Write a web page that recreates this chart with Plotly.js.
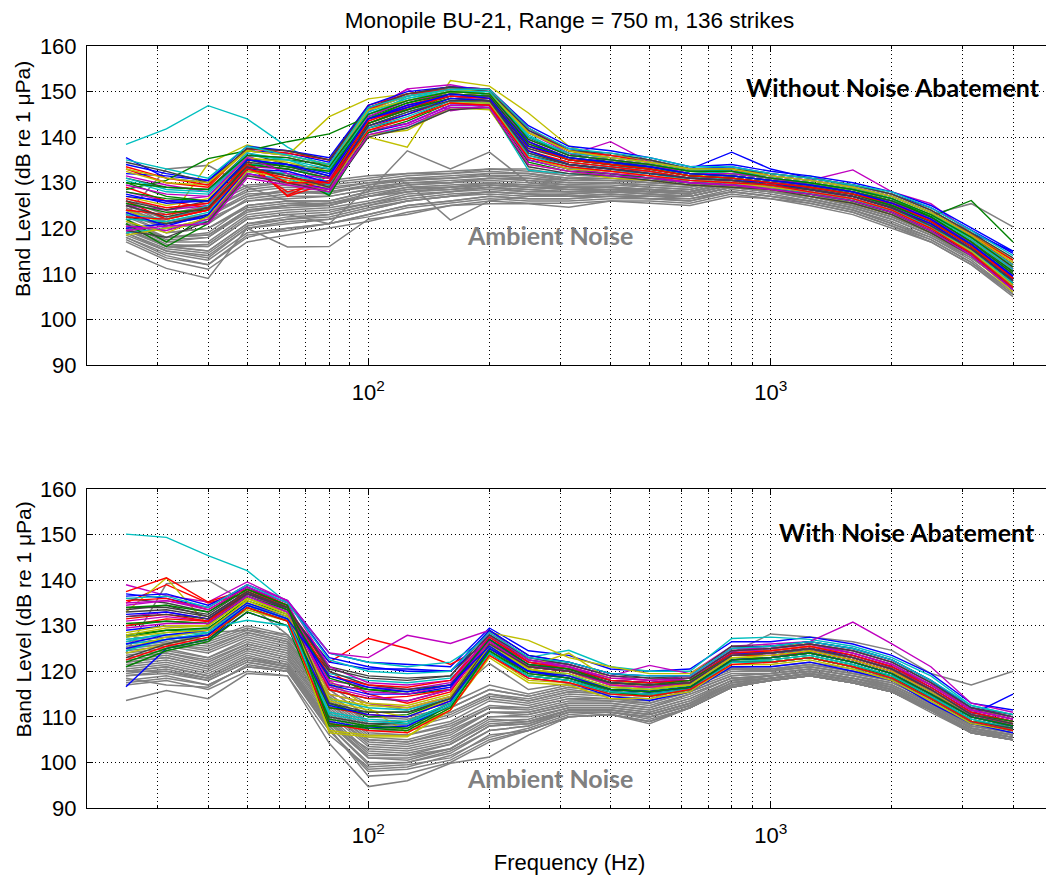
<!DOCTYPE html>
<html>
<head>
<meta charset="utf-8">
<script src="https://cdn.plot.ly/plotly-3.0.1.min.js"></script>
<style>
html,body{margin:0;padding:0;overflow:hidden;background:#fff}
#chart{width:1060px;height:877px}
</style>
</head>
<body>
<div id="chart"></div>
<script>
// 1/3-octave band centre frequencies (Hz)
const freqs = [25,31.5,40,50,63,80,100,125,160,200,250,315,400,500,630,800,1000,1250,1600,2000,2500,3150,4000];

// tick / grid positions and labels
const majorTicks = [100, 1000];
const majorLabels = ['10<sup>2</sup>', '10<sup>3</sup>'];
const minorTicks = [30,40,50,60,70,80,90,200,300,400,500,600,700,800,900,2000,3000,4000];
const levelTicks = [90,100,110,120,130,140,150,160];

// Panel 1: pile strikes without noise abatement (dB re 1 µPa)
const topStrikes = [
[135.5,131,130,137,136,134,146,149,151,150.5,142,137,136,135,133,133.5,132,131,129.5,127.5,124.5,119.5,114.5],
[122,117,123,134,133,131,143,146,149,148.5,138,135,134,133,131.5,131,130,129,127.5,125,121.5,116.5,109],
[126,122,124,135,127,130,142,145,148,148,137,134,133,132.5,131,130.5,129.5,128.5,127,124.5,121,115.5,108],
[138.4,141.8,146.9,144,137.8,133,144,149,151,149,135,133,133.5,133,132,132,131,131.5,129,126.5,122.5,117,110],
[128,126,127,136,132,130,146,150.5,145.8,147,140,136,139,134.5,133,133,131.5,130.5,132.8,128,125.4,119,111],
[124,121,134.2,138.3,136,144.5,148.4,149.5,151,150,141,137,135,133,131.5,132,131,130,128.5,126,123,118,112],
[131,129,128.5,136.5,134,133,145,148,150,149.5,140,136.5,134.5,134,132.5,132.5,131,129.5,128,125.5,122,117,110.5],
[120,121,122.5,132,130.5,128.5,141,143,147,147,135,133,132,131,130,129.5,129,127.5,126,123.5,119.5,114.5,106.5],
[130,127,126,135,135,134,144,146,149.5,149,139,135,134,133.5,132,131.5,130.5,129.5,128,126,122.5,126.1,117],
[133,130,129,137.5,137,135,147,149.5,151,150.5,141,137,135.5,134.5,133,133,131.5,130.5,129,127,123.5,118.5,112],
[119,120,121.5,131.5,131,127.5,140.5,142,146.5,146.5,132.7,132,131.5,131,130,129.5,129,127.5,126,124,120.5,115,108.5],
[125,124,125,133.5,133,131,143.5,147,149,148,138.5,135,134.5,133.5,132,131.5,130.5,129,127.5,125.5,121.5,116,109.5],
[127,125,126.5,135.5,134.5,132.5,140,137.8,152.4,151.2,145.3,138,135,134,132.5,132,131,130,128.5,126.5,123,117.5,110],
[122.5,121,123,133,131.5,129.5,142,144,148,147.5,136,134,133,132,131,130.5,129.5,128.5,127,124.5,120.5,115,107.5],
[132,131.5,130.5,137,136.5,134.5,146.5,149,150.5,150,141.5,137.5,136,135,133,136.7,133,131,129.5,127.5,124,119,114.9],
[121,116,121,132.5,132,127.2,141,143.5,147.5,147,134.5,132.5,132,131,130,129.5,128.5,127.5,126,123.5,119.5,114.5,107],
[129,126,124.5,134.5,127.2,131.5,144,147,149.5,149,139,135.5,134,133,131.5,131,130,129,127.5,125.5,122,116.5,109],
[123,122,125,134,134,130,142.5,145.5,148.5,148,136.5,134.5,133.5,132.5,131,131,130,129,127.5,125,121,115.5,108],
[131.5,129.5,128,136,135.5,133.5,145.5,150.6,151.5,150,141,136.5,135.5,134.5,133,132.5,131.5,130.5,129,127,123.5,118,111.5],
[118.5,120,122,131.5,130.5,128,140.5,141.5,146.5,146,134,132.5,131,130.5,129.5,129,128.5,127,125.5,123,119,114,106],
[126,124,126,134.5,133.5,131.5,143,146.5,149,148.5,137.5,135,134,133,131.5,131,130,129,127.5,125,121.5,116,109],
[134,132,130.5,138,137,135.5,147,150,151,150.5,142.5,138,137,135.5,133.5,134,132.5,131.5,130,128,125,120,115],
[128.5,130.5,135.3,137,139,140.7,144.5,147.5,150,149.5,140,136,135,134,132.5,132,131,130,128.5,126.5,122.5,117,110.5],
[124,123,124.5,133.5,128,130.5,143,146,148.5,148,137,134.5,133.5,132.5,131,130.5,129.5,128.5,127,124.5,121,115.5,108.5],
[130.5,128,127.5,136,135,132,145,148.5,150.5,149.5,140.5,136,135,134,132.5,132,131,130,128.5,126.5,123,117.5,111],
[120.5,119.5,122,132,130,128.5,141.5,143,147,147,135,133,132,131.5,130,129.5,129,128,126.5,124,120,114.5,107],
[132.5,130,129.5,137,136,134,146,149,150.5,150,141,137,136,135,133,133,132,131,129.5,127.5,124,119,113],
[119.5,118,121.5,131.5,130,128,140,142,146,146.5,133.5,132,131.5,130.5,129.5,129,128.5,127,125.5,123,119,114,106.5],
[127.5,125.5,126,135,134,132,144,147,149,149,139,135.5,134.5,133.5,132,131.5,130.5,129.5,128,126,122,116.5,109.5],
[125.5,123.5,124,134,133,131,143,146,148.5,148,138,135,134,133,131.5,131,130,129,127.5,125,121.5,116,108],
[133.5,131,129.5,137.5,136.5,135,146,149.5,150.5,150.5,142,137,136,134.5,133,133,131.5,130.5,129,127,123.5,118.5,113],
[122,121.5,123.5,133,132,129.5,142,144.5,148,147.5,136,133.5,132.5,132,130.5,130,129.5,128,126.5,124,120.5,115,108],
[129.5,127.5,127,135.5,132,131,144.5,148,149.5,149,139.5,136,135,134,132,132,131,129.5,128,126,122,117,110],
[121.5,119,122.5,132.5,131,129,141.5,144,147.5,147.5,135.5,133,132.5,131.5,130.5,130,129,128,126.5,124,120,115,107.5],
[134.5,132.5,130,137.5,137,135,146.5,149.5,151,150,141.5,137,136.5,135,133,133,132,131,129.5,127.5,124,119,113.5],
[123.5,120.5,123,133,132.5,130,142.5,145,148.5,148,137,134,133,132,131,130.5,130,128.5,127,124.5,121,115.5,108.5],
[128,126.5,126,135,133.5,132.5,144,147.5,149.5,149,138.5,135.5,134.5,133.5,132,131.5,130.5,129.5,128,126,122.5,117,110],
[126.5,124.5,125.5,134,130,130,143.5,146.5,149,148.5,138,135,134,133,131.5,131,130,129,127.5,125.5,121.5,116,109],
[131,128.5,128,136.5,135,133,145.5,148.5,150,150,140,136.5,135.5,134.5,133,132.5,131.5,130.5,129,127,123.5,118,112],
[119.5,120.5,121,131,129.5,128,140.5,142.5,146.5,146.5,134,132.5,131.5,131,130,129.5,128.5,127.5,126,123.5,119.5,114,106.5],
[133,131,130,137,136,134,146,148,150,149.5,141,137,135.5,134.5,133,133,131.5,130.5,129,127,123.5,118.5,112.5],
[125,122.5,124.5,133.5,131.5,129,142.5,145.5,148,148,136.5,134,133,132,131,130.5,129.5,128.5,127,124.5,120.5,115.5,108.5],
[127,126,126,135,134,131.5,144,146.5,149.5,148.5,138,135.5,134.5,133.5,132,131.5,130.5,129.5,128,125.5,122,116.5,109.5],
[130,129,128.5,136,135.5,133.5,145,148,150,149.5,139.5,136,135,134,132.5,132.5,131,130,128.5,126.5,123,118,111.5],
[122.5,122,124,133,131,130,141.5,144,147.5,147,135.5,133.5,132.5,131.5,130.5,130,129.5,128,126.5,124,120,114.5,107],
[135,133,131,138,136,134,146.5,149,150.5,150.5,142,137.5,136.5,135.5,133.5,133.5,132,131,129.5,128,124.5,119.5,114]
];

// Panel 1: ambient noise
const topAmbient = [
[125,122,124,128,129,129,130,131,131,132,132,131,131,130.5,130,131.5,130.5,129.5,127.5,125.5,122.5,118,112],
[120,116,115,121,122,123,125,127,128,129,128,128,128.5,128,127.5,129.5,128.5,127,125,122.5,119,114.5,108],
[123,119,120,125,126,126,128,129.5,130,130.5,130,129.5,129.5,129,128.5,130.5,129.5,128.5,126.5,124,120.5,116,110],
[118,114,112,118,120,121,123,125,126,127,126.5,126.5,127,127,126.5,128,127,126,124,121,118,113,106],
[126,123,125,129,130,130,131,132,132,133,133,131.5,132,131,131,132,131,130,128,126,123,119,113],
[121,117,117,123,124,124.5,126,128,128.5,129.5,129,128.5,128.5,128.5,128,130,129,127.5,125.5,123,119.5,115,109],
[119,115,113.5,120,121.5,122,124,126,127,128,127.5,127,127.5,127,127,129,128,126.5,124.5,122,118.5,114,107.5],
[124,120,121,126.5,127.5,128,129,130,130.5,131,131,130,130,129.5,129,131,130,129,127,124.5,121.5,117,111],
[122,118,118.5,124,125,125,127,128.5,129,130,129.5,129,129,128.5,128,130,129,128,126,123.5,120,115.5,109.5],
[117,113,111,117,118.5,120,121.5,123.5,125,126,125.5,125.5,126,126,125.5,127.5,126.5,125.5,123.5,120.5,117.5,112.5,105.5],
[125.5,121,123,127.5,128,127.5,129.5,131,131.5,132,132,130.5,131,130,129.5,131.5,130.5,129,127,125,122,117.5,111.5],
[120.5,116.5,116,122,123,123.5,125.5,127,128,128.5,128,128,128,127.5,127,129,128,127,125,122.5,119,114.5,108.5],
[115,111.2,109,120,115.9,116,122,123,125,125.4,125.4,124.6,126,125.5,125,127,126.5,125,123,120,117,112,105],
[123,133,133.8,129,126,125,127,129,129,130,129,128.5,128.5,128,127.5,129.5,128.5,127.5,125.5,123,119.5,115,109],
[121,117,118,124,124.5,125,127,128,128.5,129,128.5,128,128.5,128,127.5,129.5,128.5,127.5,126,124,123,125.4,120.3],
[121,118,119,125,126,126,128,137,133,136.7,130,129,129,128.5,128,130,129,128,126,123.5,120,115.5,109.5],
[120,116,116,122,123,121,129,130,121.8,126,127,127.5,128,127.5,127,129,128,127,125,122.5,119,114.5,108],
[123.5,120,122,126,126.5,127,128.5,130,130,131,130.5,130,130,129.5,129,131,130,128.5,126.5,124,121,116.5,110.5],
[118.5,115,114,120,121,122,124,126,127,127.5,127,127,127,126.5,126.5,128.5,127.5,126,124,121.5,118,113.5,107],
[124.5,121,122.5,127,128.5,128.5,130,130.5,131,131.5,131.5,130.5,130.5,130,129.5,131,130,129,127,124.5,121.5,117,111],
[121.5,117.5,118,123.5,125,125.5,127,128,129,129.5,129,128.5,129,128,128,130,128.5,127.5,125.5,123,119.5,115,109],
[119.5,116,115,121,122.5,123,125,126.5,127.5,128,127.5,127.5,128,127.5,127,129,128,126.5,124.5,122,118.5,114,108],
[122.5,119,120,124.5,125.5,125.5,127.5,129,129.5,130,129.5,129,129,128.5,128,130,129,128,126,123.5,120,115.5,109.5],
[118,114.5,113,119,120,121,123,125,126,127,126.5,126.5,127,126.5,126,128,127,126,124,121,117.5,112.5,106],
[124,121.5,123,127,128,128,129.5,130.5,131,131.5,131,130.5,130.5,130,129.5,131,130,129,127,125,121.5,117,111],
[120,116,116.5,122.5,123.5,124,125.5,127.5,128,129,128.5,128,128,128,127.5,129.5,128.5,127,125,122.5,119,114.5,108.5],
[125,122.5,124,128.5,129.5,129.5,130.5,131.5,132,132.5,132,131,131.5,130.5,130.5,131.5,130.5,129.5,127.5,125.5,122.5,118,112],
[117.5,113.5,112,118.5,119.5,121,122.5,124.5,125.5,126.5,126,126,126.5,126.5,126,128,127,125.5,123.5,120.5,117,112,105.5],
[121,118,118.5,124,125,125.5,127,128.5,129,129.5,129,129,129,128.5,128,130,129,128,126,123,119.5,115,109],
[123,120,121.5,126,127,127,128.5,129.5,130,131,130.5,129.5,130,129,128.5,130.5,129.5,128.5,126.5,124,121,116.5,110.5],
[119,115.5,114.5,120.5,122,122.5,124.5,126,127,128,127.5,127,127.5,127,127,129,128,126.5,124.5,122,118.5,113.5,107],
[126.5,124,125.5,129.5,130,130.5,131.5,132,132.5,133,132.5,131.5,132,131,131,132,131,130,128,126,123,118.5,112.5]
];

// Panel 2: pile strikes with noise abatement
const bottomStrikes = [
[137,136,134,139,135.5,124,122,121.5,121,129.5,124.5,123.5,120.5,120,120.5,126.5,126.5,127.5,126,123.5,119.5,113,111.5],
[128,129,129,136,133,117,116,115,116,128,122,120.5,118,117.5,118,124,124,125,123,120.5,116,110.5,109],
[135,139,135,137,133.5,122,127.2,125,121.5,126,121,120,117,116.5,117,123,123,124.5,122.5,120,115.5,110,108.5],
[150.1,149.4,145.4,142.1,135,124,122,121,122,127.5,123,124.6,121,120,120,127.2,127.5,127,125.5,123,119,112.5,110.5],
[139,136.6,135.2,139.6,135.5,124,123,127.9,126.1,129,122.5,121.5,119,121.3,119.5,125.5,126,126.5,130.8,126,121,113,111],
[133,140.5,130,138,134.5,118,112,106.5,112,128.5,126.8,123,121,119.5,119.5,125,125.5,126,124.5,122,117.5,111.5,110],
[136,135,133,138.5,134,121,119,118.5,119,129,123.5,122,119.5,118.5,119,125.5,125.5,126.5,125,122.5,118,112,110.5],
[116.6,125,127,133,130,109,107.5,108,112.5,124,118.5,117.5,114.5,113.6,115.5,121,121,122,120,118,113,108.5,106.5],
[130,131,130.5,137,134,113,110,110.5,114,126.5,120.5,119,116.5,116,117,123,123,124,122,119.5,115,110,108],
[137.5,140.5,135.2,138,134,120,115,113,115.5,127,122,121,118.5,118,118.5,124.5,124.5,125.5,123.5,121,117,111.5,109.5],
[126,127,128,134,131.2,119.5,118,117.5,118.5,125.5,120,119.5,116,115.5,117,124,124,124.5,123,120.5,116,110.5,108.5],
[132,133,131.5,137.5,134,115,113,112,114.5,127,121.5,120,117.5,117,118,124,124,125,123,120.5,116.5,111,109],
[124,126,128,133.5,131,107,106,105.8,111.5,123.5,118,117.5,115,114.5,116,122,122,123,121,118.5,114,109,107.5],
[134,134,132.5,138,134.5,116,114,113.5,116,128,122.5,121,118,117.5,118.5,124.5,125,126,124,121.5,117,111.5,109.5],
[129,130,130,136.5,133,122,120.5,120.5,120,127,121,120,117.5,117,117.5,123.5,123.5,124.5,122.5,120,115.5,110.5,115],
[121,124.5,126.5,133,130,108,108,109,113,124.5,119,118,115.5,115,116.5,122,122,123,121,119,114,109,107],
[135.5,136,133.5,138.5,134.5,112,110.5,110,113.5,126,121,120,117,116.5,117.5,123.5,124,125,123,120.5,116,110.5,108.5],
[127,128,128.5,135,131.5,114,112,111.5,114,125.5,120,119,116.5,116,117,123,123,124,122,119.5,115,110,108],
[131,132,131,137,133.5,118,116.5,116,117.5,127.5,122,121,118,117.5,118.5,124.5,124.5,125.5,124,121.5,117,111.5,109.5],
[125,127.5,129,135,132,106.5,105.6,105.6,111.5,123,117.5,117,114,114,115.5,121.5,121.5,122.5,120.5,118,113.5,108.5,107],
[133.5,134.5,132,137.5,133.5,110,108.5,108.5,113,125,120,119,116,115.5,116.5,122.5,123,124,122,119.5,115,110,108],
[136.5,137,134.5,138.5,135,123,121,120,120,129,123.5,122,119.5,119,119,125,125.5,126.5,125,122.5,118,112,110],
[122,125,127,134,131,112,111,111,114,125,120,118.5,116,115.5,116.5,122.5,122.5,123.5,121.5,119,114.5,109.5,107.5],
[130,131.5,131,137,134,116,114,114.5,116,126.5,121,120,117,116.5,117.5,123.5,123.5,124.5,122.5,120,116,110.5,108.5],
[126.5,128.5,129.5,131.2,130,111,109.5,109,113,124,119,118,115,115,116.5,122,122.5,123.5,121.5,119,114.5,109.5,107.5],
[134.5,135.5,134,139,135.5,121,117.5,117,118,128.5,123,121.5,119,118,119,125,125,126,124.5,122,117.5,112,110],
[128.5,130,130,136,133,113.5,111.5,110,114,126,121,124,118,117,118,124,124.5,125.5,123.5,121,116.5,111,109],
[123,126,128,134.5,131.5,120,117,116,117,125,119.5,118.5,115.5,115,116,122,122,123,121,118.5,114,109,107.5],
[132.5,133,131.5,137,134,117,115,115,116.5,127,121.5,120.5,118,117.5,118,124,124,125,123.5,121,116.5,111,109],
[127.5,129,129.5,135.5,132.5,109.5,108,107.5,112.5,124,119,118,115.5,114.5,116,122,122,123,121,118.5,114,109,107],
[131.5,132.5,131,137.5,134,119,117,116.5,118,127.5,122,120.5,118,117.5,118,124,124.5,125.5,123.5,121,116.5,111,109],
[124.5,127,128.5,134.5,131.5,110.5,109,108.5,112.5,124,119,118,115.5,115,116,122,122,123,121,118.5,114,109,107],
[135,135.5,133.5,138.5,135,117.5,115.5,115,117,128,122.5,121,118.5,118,118.5,124.5,125,126,124,121.5,117,111.5,109.5],
[128,129.5,130,136,132.5,115,113,112.5,115,126,120.5,119.5,117,116.5,117,123,123.5,124.5,122.5,120,115.5,110.5,108.5],
[133,133.5,132,137.5,134,120.5,118.5,118,119,128,123,121.5,119,118.5,118.5,124.5,125,126,124.5,122,117.5,112,110],
[126,128,129,135,132,112.5,110.5,110,113.5,125,120,118.5,116,115.5,116.5,122.5,123,124,122,119.5,115,110,108],
[130.5,131,130.5,136.5,133.5,118.5,116,115.5,117,127,121.5,120.5,117.5,117,118,123.5,124,125,123,120.5,116,110.5,109],
[122.5,125.5,127.5,134,131,108.5,107,106.5,111.5,123.5,118.5,117.5,115,114.5,116,121.5,122,123,121,118.5,114,109,107],
[136,136.5,134,139,135,122.5,120,119.5,120,128.5,123,122,119.5,119,119,125,125.5,126.5,125,122.5,118,112.5,110.5],
[129.5,130.5,130.5,136.5,133,116.5,114.5,113.5,116,126.5,121,120,117,116.5,117.5,123.5,124,125,123,120.5,116,110.5,108.5],
[127.5,128.5,129,135.5,132,114,112.5,112,114.5,125.5,120.5,119,116.5,116,117,123,123,124,122,119.5,115,110,108],
[132,132.5,131.5,137,134,113,111,111,114,126,121,120,117.5,117,117.5,123.5,124,125,123,120.5,116,110.5,108.5],
[125,127,128,134.5,131.5,119,116.5,115.5,117,125.5,120,119,116,115.5,116.5,122.5,123,124,122,119.5,115,110,108],
[134,134.5,133,138,134.5,108.5,107.5,107,112,124.5,119.5,118.5,116,115.5,116.5,122.5,123,124,122,119.5,115,110,108]
];

// Panel 2: ambient noise
const bottomAmbient = [
[127,128,127,130,128,117,111,111,113,117,115,117,116,115.5,118,121,121,122,120.5,119,115,109,108],
[120,121,119,123,121,109,101,101,103,108,109,111.5,111.5,110.5,113,117.5,118.5,119.5,118,116,112,107,105.5],
[124,125,123,127,125,113,106,106,108,112,112,114,113.5,113,115.5,119,119.5,120.5,119,117.5,113.5,108,106.5],
[118,119,117,121,120,107,98.5,99,101.5,105.5,107.5,110.5,111,109.5,112,116.5,118,119,117.5,115.5,111.5,106.5,105],
[126,127,126,129,127,115,109,109,111,115,114,116,115,114.5,117,120.5,120.5,121.5,120,118.5,114.5,108.5,107.5],
[122,123,121,125,123,111,104,103.5,105.5,110,110.5,112.5,112.5,111.5,114,118,119,120,118.5,116.5,112.5,107.5,106],
[119,120,118,122,120.5,108,100,100,102,107,108,111,111,110,112.5,117,118,119,117.5,115.5,111.5,106.5,105],
[125,126,124.5,128,126,114,107.5,107.5,110,114,113,115,114.5,114,116.5,120,120,121,119.5,118,114,108.5,107],
[121,122,120,124,122,110,102.5,102,104,109,109.5,112,112,111,113.5,117.5,118.5,119.5,118,116,112,107,105.5],
[123,124,122,126,124,112,105,104.5,107,111,111,113,113,112,115,118.5,119,120,118.5,117,113,107.5,106],
[113.6,115.8,114,119.5,119,104.2,94.7,96,99.8,101.2,106,110,110.5,108.5,112,116.5,118,119,117.5,115.5,111.5,106.5,104.9],
[124,139.2,140,135,128,117.3,112.9,111.5,114.4,121.7,116,117.3,116,115.8,118,121,120.2,121.5,120,118.5,114.5,109,108],
[128,126,128.5,129,128,116,110,109.5,112,116,114.5,116.5,115.5,115,117.5,124,128.2,127.5,126.5,124.6,119.5,117,120],
[117,118,116,120,119,106,99,99.5,101,106,107,110,110.5,109,112,116.5,118,119,117.5,115.5,111,106.5,105],
[122.5,123.5,121.5,125.5,123.5,111.5,105,104.5,106.5,111,111,113,113,112,114.5,118.5,119,120,118.5,116.5,112.5,107.5,106],
[120,121,119,123,121.5,109,101.5,101.5,103,108,108.5,111.5,111.5,110.5,113,117,118.5,119.5,118,116,112,107,105.5],
[125.5,126.5,125.5,128.5,126.5,114.5,108,108,110.5,114.5,113.5,115.5,115,114.5,117,120.5,120,121,119.5,118,114,108.5,107],
[119.5,120.5,118.5,122.5,121,108.5,103,102.5,104.5,109.5,109,111.5,111.5,110.5,113,117.5,118.5,119.5,118,116,112,107,105.5],
[123.5,124.5,123,126.5,124.5,113,106.5,106,108.5,112.5,112,114,114,113,115.5,119,119.5,120.5,119,117,113,108,106.5],
[118.5,117,116.5,121.5,120,107.5,97,97.5,100,104.5,107,110,110.5,109,112,116.5,118,119,117.5,115.5,111.5,106.5,105],
[121.5,122.5,120.5,124.5,122.5,110.5,103.5,103,105,110,110,112,112,111,113.5,118,118.5,119.5,118,116.5,112.5,107.5,105.5],
[124.5,125.5,124,127.5,125.5,113.5,107,107,109,113.5,112.5,114.5,114,113.5,116,119.5,119.5,120.5,119,117.5,113.5,108,106.5],
[119,119.5,118,122,120.5,108,99.5,100,102.5,107,108,111,111,110,112.5,117,118,119,117.5,115.5,111.5,106.5,105],
[126.5,127.5,126.5,129.5,127.5,116,110,110,112,116,114.5,116.5,115.5,115,117.5,120.5,120.5,121.5,120,118.5,114.5,108.5,107.5],
[120.5,121.5,119.5,123.5,121.5,109.5,102,101.5,104,108.5,109,111.5,111.5,110.5,113,117.5,118.5,119.5,118,116,112,107,105.5],
[123,124,122.5,126,124,112.5,105.5,105,107.5,112,111.5,113.5,113.5,112.5,115,118.5,119,120,118.5,117,113,107.5,106],
[117.5,118.5,117,121,120,107,98,98.5,100.5,105,107,110,110.5,109,112,116.5,118,119,117.5,115.5,111.5,106.5,105],
[125,126,125,128.5,126.5,115,108.5,108.5,111,115,113.5,115.5,115,114.5,117,120.5,120,121,119.5,118,114,108.5,107],
[122,123,121,125,123,111,104.5,104,106,111,110.5,112.5,112.5,111.5,114,118,119,120,118.5,116.5,112.5,107.5,106],
[120,120,118.5,122.5,121,108.5,101,100.5,103,108,108.5,111,111,110,112.5,117,118,119,117.5,115.5,111.5,107,105]
];

// ---- styling ----
const strikeColors = ['#0000ff','#008000','#ff0000','#00bfbf','#bf00bf','#bfbf00','#404040'];
const ambientColor = '#808080';
const mainFont = 'Liberation Sans, Arial, Helvetica, sans-serif';
const boldFont = 'Lato, Carlito, Calibri, sans-serif';

function makeTraces(rows, colorFn, xa, ya, width) {
  return rows.map((vals, i) => ({
    type: 'scatter', mode: 'lines',
    x: freqs, y: vals, xaxis: xa, yaxis: ya,
    line: {color: colorFn(i), width: width},
    hoverinfo: 'skip', showlegend: false
  }));
}

const traces = [].concat(
  makeTraces(topAmbient, () => ambientColor, 'x', 'y', 1.5),
  makeTraces(topStrikes, i => strikeColors[i % strikeColors.length], 'x', 'y', 1.4),
  makeTraces(bottomAmbient, () => ambientColor, 'x2', 'y2', 1.5),
  makeTraces(bottomStrikes, i => strikeColors[i % strikeColors.length], 'x2', 'y2', 1.4)
);

const gridStyle = {gridcolor: '#000', gridwidth: 1, griddash: '1px,3px'};

function xAxis(anchor, withTitle) {
  const ax = Object.assign({
    type: 'log', anchor: anchor,
    range: [Math.log10(20), Math.log10(5000)],
    tickmode: 'array', tickvals: majorTicks, ticktext: majorLabels,
    ticks: 'inside', ticklen: 6, tickwidth: 1, tickcolor: '#000',
    showline: true, linecolor: '#000', linewidth: 1, mirror: 'ticks',
    showgrid: true,
    minor: Object.assign({tickmode: 'array', tickvals: minorTicks, ticks: 'inside', ticklen: 3,
                          tickcolor: '#000', showgrid: true}, gridStyle),
    zeroline: false, tickfont: {family: mainFont, size: 22, color: '#000'},
    ticklabelstandoff: 8, fixedrange: true
  }, gridStyle);
  if (withTitle) {
    ax.title = {text: 'Frequency (Hz)', font: {family: mainFont, size: 22, color: '#000'}, standoff: 7};
  }
  return ax;
}
function yAxis(anchor, domain) {
  return Object.assign({
    anchor: anchor, domain: domain, range: [90, 160],
    tickmode: 'array', tickvals: levelTicks,
    ticks: 'inside', ticklen: 6, tickwidth: 1, tickcolor: '#000',
    showline: true, linecolor: '#000', linewidth: 1, mirror: 'ticks',
    showgrid: true,
    zeroline: false, tickfont: {family: mainFont, size: 22, color: '#000'},
    ticklabelstandoff: 5, fixedrange: true
  }, gridStyle);
}

const layout = {
  width: 1060, height: 877,
  margin: {l: 87, r: 8, t: 46, b: 69},
  paper_bgcolor: '#fff', plot_bgcolor: '#fff',
  showlegend: false,
  title: {text: 'Monopile BU-21, Range = 750 m, 136 strikes',
          font: {family: mainFont, size: 22.5, color: '#000'},
          x: 0.5, xref: 'paper', y: 1 - 20/877, yref: 'container', yanchor: 'middle'},
  xaxis: xAxis('y', false),
  yaxis: yAxis('x', [0.5814, 1]),
  xaxis2: xAxis('y2', true),
  yaxis2: yAxis('x2', [0, 0.4186]),
  annotations: [
    {text: 'Band Level (dB re 1 \u03bcPa)', textangle: -90, xref: 'paper', yref: 'paper',
     x: -0.0663, y: 0.8255, xanchor: 'center', yanchor: 'middle', showarrow: false,
     font: {family: mainFont, size: 21, color: '#000'}},
    {text: 'Band Level (dB re 1 \u03bcPa)', textangle: -90, xref: 'paper', yref: 'paper',
     x: -0.0663, y: 0.2474, xanchor: 'center', yanchor: 'middle', showarrow: false,
     font: {family: mainFont, size: 21, color: '#000'}},
    {text: '<b>Without Noise Abatement</b>', xref: 'paper', yref: 'paper',
     x: 0.835, y: 0.9462, xanchor: 'center', yanchor: 'middle', showarrow: false,
     font: {family: boldFont, size: 25, color: '#000'}},
    {text: '<b>With Noise Abatement</b>', xref: 'paper', yref: 'paper',
     x: 0.8497, y: 0.3622, xanchor: 'center', yanchor: 'middle', showarrow: false,
     font: {family: boldFont, size: 25, color: '#000'}},
    {text: '<b>Ambient Noise</b>', xref: 'paper', yref: 'paper',
     x: 0.4793, y: 0.752, xanchor: 'center', yanchor: 'middle', showarrow: false,
     font: {family: boldFont, size: 25, color: '#808080'}},
    {text: '<b>Ambient Noise</b>', xref: 'paper', yref: 'paper',
     x: 0.4793, y: 0.0394, xanchor: 'center', yanchor: 'middle', showarrow: false,
     font: {family: boldFont, size: 25, color: '#808080'}}
  ]
};

Plotly.newPlot('chart', traces, layout, {displayModeBar: false, staticPlot: true});
</script>
</body>
</html>
